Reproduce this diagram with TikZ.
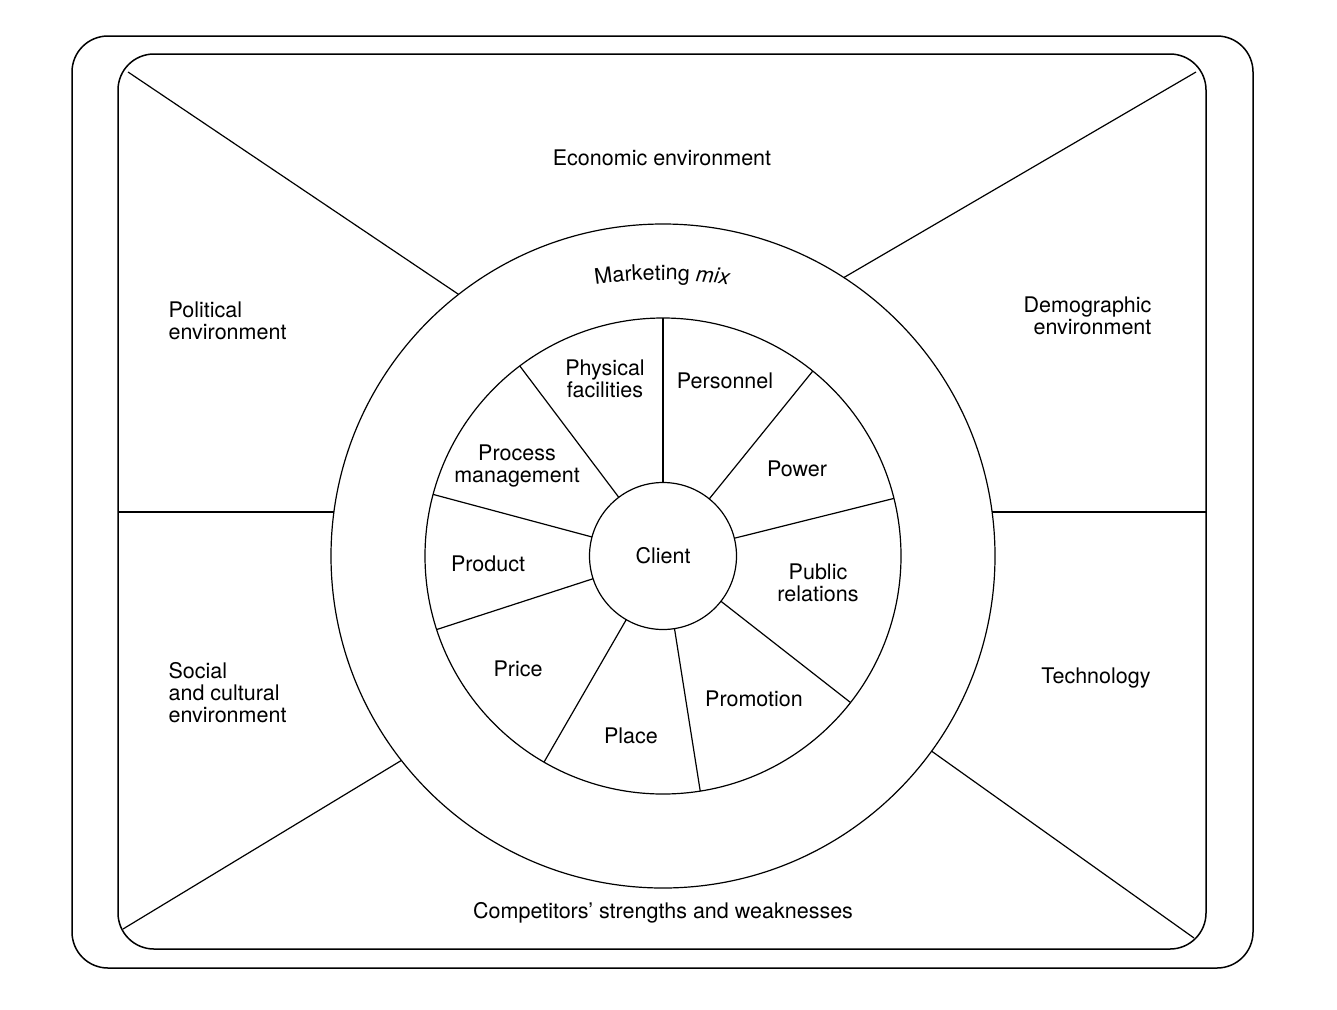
\documentclass[tikz,border=0pt]{standalone}
\usepackage{fontspec}
\setmainfont{TeX Gyre Heros}
\usetikzlibrary{decorations.text}
\newcommand{\wheelfont}{\fontsize{21.5}{22}\selectfont}

\begin{document}
\begin{tikzpicture}[x=1pt, y=-1pt, line width=1.2pt,
        ring/.style = {draw, circle, inner sep=0pt, outer sep=0pt},
        lbl/.style = {font=\wheelfont, align=center, inner sep=0pt},
        frame/.style = {draw, line width=1.5pt, rounded corners=36pt}]
    \useasboundingbox (0,0) rectangle (1337,1009);

    \draw[frame] (72,36) rectangle (1253,968);
    \draw[frame] (118,54) rectangle (1206,949);

    \node[ring, minimum size=664pt] (mixring) at (663,556) {};
    \node[ring, minimum size=476pt] (wheel) at (663,556) {};
    \node[ring, minimum size=147pt, font=\wheelfont] (client) at (663,556) {Client};

    % environment borders
    \coordinate (tl) at (128,72);
    \coordinate (tr) at (1196,72);
    \coordinate (bl) at (123,929);
    \coordinate (br) at (1194,938);
    \coordinate (ml) at (118,512);
    \coordinate (mr) at (1206,512);
    \draw (tl) -- (mixring.128.6);
    \draw (tr) -- (mixring.57.8);
    \draw (bl) -- (mixring.-142);
    \draw (br) -- (mixring.-36.4);
    \draw (ml) -- ([xshift=3pt]mixring.west |- ml);
    \draw (mr) -- ([xshift=-3pt]mixring.east |- mr);

    % spokes of the mix
    \foreach \a in {90,51,14.5,-38.5,-81.7,-120.3,-162.7,165.7,127.3}
        \draw (client.\a) -- (wheel.\a);

    \node[lbl] (econ) at (662,158) {Economic environment};
    \node[lbl, anchor=west, align=left] (polit) at (168,321) {Political\\environment};
    \node[lbl, anchor=east, align=right] (demo) at (1152,316) {Demographic\\environment};
    \node[lbl, anchor=west, align=left] (social) at (168,693) {Social\\and cultural\\environment};
    \node[lbl] (tech) at (1096,678) {Technology};
    \node[lbl] (comp) at (663,913) {Competitors' strengths and weaknesses};

    \coordinate (arcc) at (662,730);
    \path[decorate, decoration={text along path, text align=center,
        text={|\wheelfont|Marketing |\wheelfont\itshape|mix}}]
        (arcc) ++(-102:450) arc[start angle=-102, end angle=-78, radius=450];

    \node[lbl] (phys) at (605,379) {Physical\\facilities};
    \node[lbl] (pers) at (725,381) {Personnel};
    \node[lbl] (power) at (797,469) {Power};
    \node[lbl] (pubrel) at (818,583) {Public\\relations};
    \node[lbl] (promo) at (754,699) {Promotion};
    \node[lbl] (place) at (631,736) {Place};
    \node[lbl] (price) at (518,669) {Price};
    \node[lbl] (prod) at (488,564) {Product};
    \node[lbl] (proc) at (517,466) {Process\\management};
\end{tikzpicture}
\end{document}
